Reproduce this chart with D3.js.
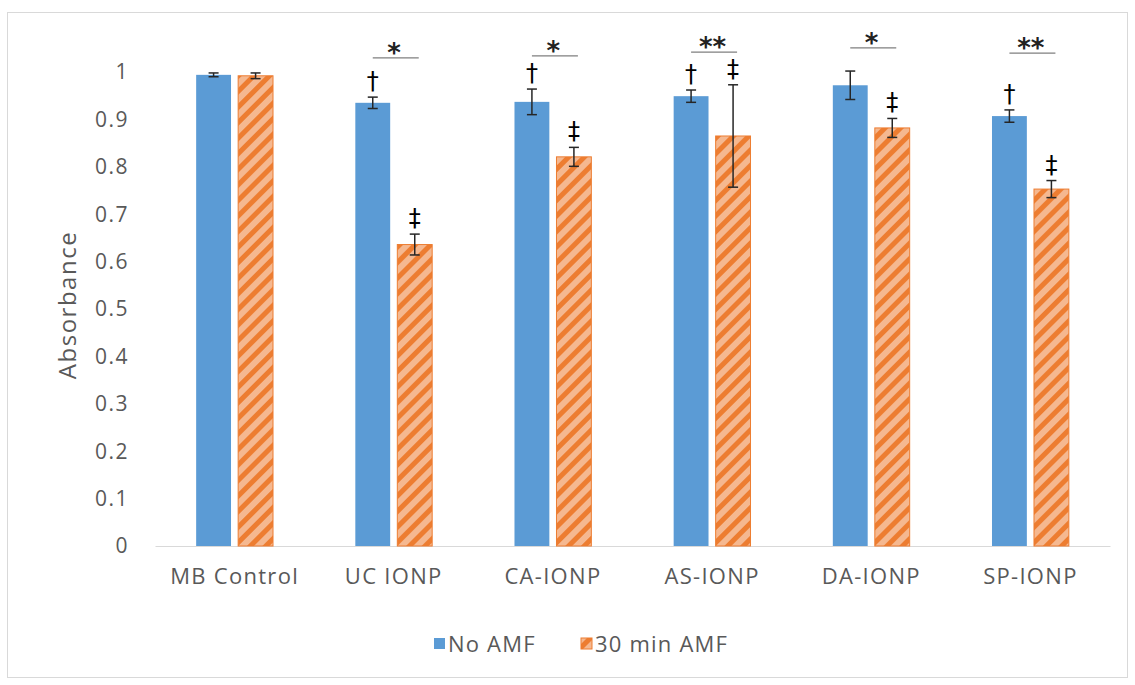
<!DOCTYPE html>
<html>
<head>
<meta charset="utf-8">
<script src="https://cdn.jsdelivr.net/npm/d3@7"></script>
<style>
  body { margin: 0; background: #fff; }
  svg text { font-family: "Open Sans", sans-serif; fill: #595959; }
</style>
</head>
<body>
<div id="chart"></div>
<script>
// data
var categories = ["MB Control", "UC IONP", "CA-IONP", "AS-IONP", "DA-IONP", "SP-IONP"];
var seriesNames = ["No AMF", "30 min AMF"];
var noAmf = [0.994, 0.935, 0.937, 0.949, 0.972, 0.907];
var noAmfErr = [0.004, 0.012, 0.027, 0.013, 0.030, 0.013];
var amf30 = [0.992, 0.636, 0.821, 0.865, 0.882, 0.753];
var amf30Err = [0.006, 0.022, 0.020, 0.108, 0.020, 0.018];
// significance between the pair, and its bracket level (in absorbance units)
var sigLabels = ["", "*", "*", "**", "*", "**"];
var sigLevels = [null, 1.030, 1.034, 1.042, 1.051, 1.040];
// markers over single bars
var noAmfMarks = ["", "\u2020", "\u2020", "\u2020", "", "\u2020"];
var amf30Marks = ["", "\u2021", "\u2021", "\u2021", "\u2021", "\u2021"];
var yTicks = [0, 0.1, 0.2, 0.3, 0.4, 0.5, 0.6, 0.7, 0.8, 0.9, 1];

var W = 1135, H = 685;
var blue = "#5b9bd5", orange = "#ed7d31";

var svg = d3.select("#chart").append("svg")
    .attr("width", W)
    .attr("height", H);

// hatch for the orange bars
var defs = svg.append("defs");
var pat = defs.append("pattern")
    .attr("id", "hatch")
    .attr("patternUnits", "userSpaceOnUse")
    .attr("width", 11)
    .attr("height", 11)
    .attr("patternTransform", "rotate(45)");
pat.append("rect").attr("width", 11).attr("height", 11).attr("fill", "#f5b890");
pat.append("rect").attr("width", 5).attr("height", 11).attr("fill", orange);

// chart frame
svg.append("rect")
    .attr("x", 7.5).attr("y", 12.5)
    .attr("width", 1120).attr("height", 665)
    .attr("fill", "#fff")
    .attr("stroke", "#d9d9d9");

var x = d3.scaleBand()
    .domain(categories)
    .range([155, 1110]);

var x1 = d3.scaleBand()
    .domain(seriesNames)
    .range([0, x.bandwidth()])
    .paddingInner(0.17)
    .paddingOuter(0.98);

var y = d3.scaleLinear()
    .domain([0, 1])
    .range([546, 72]);

// y tick labels (no gridlines in the original)
svg.append("g").selectAll("text")
    .data(yTicks)
  .enter().append("text")
    .attr("x", 129)
    .attr("y", function(d) { return y(d); })
    .attr("dy", "0.35em")
    .attr("text-anchor", "end")
    .style("font-size", "21px")
    .style("letter-spacing", "1.5px")
    .text(function(d) { return d3.format("~g")(d); });

// x axis
var xAxis = svg.append("g")
    .attr("transform", "translate(0,546)")
    .call(d3.axisBottom(x).tickSize(0).tickPadding(22));
xAxis.select(".domain").attr("stroke", "#d9d9d9");
xAxis.selectAll("text")
    .style("font-size", "22px")
    .style("letter-spacing", "1.3px")
    .style("font-family", "'Open Sans', sans-serif")
    .attr("fill", "#595959");

// y title
svg.append("text")
    .attr("transform", "translate(76,305) rotate(-90)")
    .attr("text-anchor", "middle")
    .style("font-size", "24px")
    .style("letter-spacing", "1.5px")
    .text("Absorbance");

var rows = categories.map(function(c, i) {
  return [
    { cat: c, s: seriesNames[0], v: noAmf[i], e: noAmfErr[i], m: noAmfMarks[i] },
    { cat: c, s: seriesNames[1], v: amf30[i], e: amf30Err[i], m: amf30Marks[i] }
  ];
});

var groups = svg.append("g").selectAll("g")
    .data(rows)
  .enter().append("g")
    .attr("transform", function(d) { return "translate(" + x(d[0].cat) + ",0)"; });

var bars = groups.selectAll("g.bar")
    .data(function(d) { return d; })
  .enter().append("g")
    .attr("class", "bar");

bars.append("rect")
    .attr("x", function(d) { return x1(d.s); })
    .attr("y", function(d) { return y(d.v); })
    .attr("width", x1.bandwidth())
    .attr("height", function(d) { return y(0) - y(d.v); })
    .attr("fill", function(d) { return d.s === seriesNames[0] ? blue : "url(#hatch)"; })
    .attr("stroke", function(d) { return d.s === seriesNames[0] ? "none" : orange; })
    .attr("stroke-width", 1);

// error bars
var cap = 5;
bars.append("line")
    .attr("x1", function(d) { return x1(d.s) + x1.bandwidth() / 2; })
    .attr("x2", function(d) { return x1(d.s) + x1.bandwidth() / 2; })
    .attr("y1", function(d) { return y(d.v + d.e); })
    .attr("y2", function(d) { return y(d.v - d.e); })
    .attr("stroke", "#262626").attr("stroke-width", 1.5);
[1, -1].forEach(function(sign) {
  bars.append("line")
      .attr("x1", function(d) { return x1(d.s) + x1.bandwidth() / 2 - cap; })
      .attr("x2", function(d) { return x1(d.s) + x1.bandwidth() / 2 + cap; })
      .attr("y1", function(d) { return y(d.v + sign * d.e); })
      .attr("y2", function(d) { return y(d.v + sign * d.e); })
      .attr("stroke", "#262626").attr("stroke-width", 1.5);
});

// dagger markers
bars.filter(function(d) { return d.m; })
  .append("text")
    .attr("x", function(d) { return x1(d.s) + x1.bandwidth() / 2; })
    .attr("y", function(d) { return y(d.v + d.e) - 8; })
    .attr("text-anchor", "middle")
    .style("font-size", "24px")
    .style("font-family", "'DejaVu Sans', sans-serif")
    .style("fill", "#000")
    .text(function(d) { return d.m; });

// significance brackets
var sig = groups.filter(function(d, i) { return sigLabels[i]; });
sig.append("line")
    .attr("x1", x1(seriesNames[0]) + x1.bandwidth() / 2)
    .attr("x2", x1(seriesNames[1]) + x1.bandwidth() / 2 + 4)
    .attr("y1", function(d, i) { return y(sigLevels[categories.indexOf(d[0].cat)]); })
    .attr("y2", function(d, i) { return y(sigLevels[categories.indexOf(d[0].cat)]); })
    .attr("stroke", "#7f7f7f").attr("stroke-width", 1.2);
sig.append("text")
    .attr("x", x1(seriesNames[0]) + x1.bandwidth() + 4)
    .attr("y", function(d) { return y(sigLevels[categories.indexOf(d[0].cat)]) + 4; })
    .attr("text-anchor", "middle")
    .style("font-size", "26px")
    .style("font-family", "'DejaVu Sans', sans-serif")
    .style("font-weight", "bold")
    .style("fill", "#222")
    .text(function(d) { return sigLabels[categories.indexOf(d[0].cat)]; });

// legend
var legend = svg.append("g").attr("transform", "translate(434,644)");
var items = legend.selectAll("g")
    .data(seriesNames)
  .enter().append("g")
    .attr("transform", function(d, i) { return "translate(" + (i * 147) + ",0)"; });
items.append("rect")
    .attr("x", 0).attr("y", -6)
    .attr("width", 11).attr("height", 11)
    .attr("fill", function(d, i) { return i === 0 ? blue : "url(#hatch)"; })
    .attr("stroke", function(d, i) { return i === 0 ? "none" : orange; });
items.append("text")
    .attr("x", 14)
    .attr("y", 0)
    .attr("dy", "0.35em")
    .style("font-size", "22px")
    .style("letter-spacing", "1.2px")
    .text(function(d) { return d; });
</script>
</body>
</html>
